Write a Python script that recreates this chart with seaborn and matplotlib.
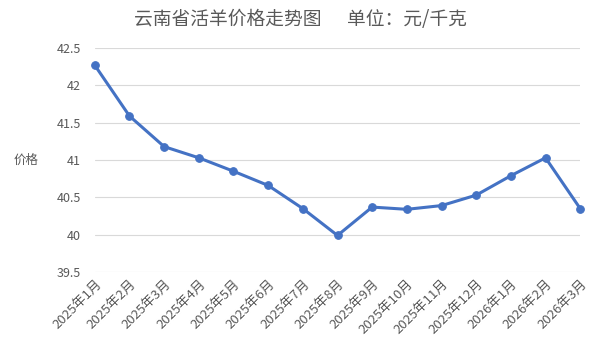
"""云南省活羊价格走势图 line chart."""

import matplotlib

matplotlib.use("Agg")
import matplotlib.pyplot as plt
import pandas as pd
import seaborn as sns

# Data
months = [
    "2025年1月", "2025年2月", "2025年3月", "2025年4月", "2025年5月",
    "2025年6月", "2025年7月", "2025年8月", "2025年9月", "2025年10月",
    "2025年11月", "2025年12月", "2026年1月", "2026年2月", "2026年3月",
]
prices = [
    42.27, 41.59, 41.18, 41.03, 40.85, 40.66, 40.35, 39.99,
    40.37, 40.34, 40.39, 40.53, 40.79, 41.03, 40.35,
]
y_ticks = [39.5, 40, 40.5, 41, 41.5, 42, 42.5]
y_tick_labels = ["39.5", "40", "40.5", "41", "41.5", "42", "42.5"]

df = pd.DataFrame({"month": months, "price": prices, "pos": range(len(months))})

sns.set_style("white")
plt.rcParams["font.family"] = ["Noto Sans CJK SC", "DejaVu Sans"]

fig = plt.figure(figsize=(6, 3.51), dpi=100)
ax = fig.add_axes([0.158, 0.225, 0.809, 0.638])

sns.lineplot(
    data=df, x="pos", y="price", ax=ax,
    color="#4472C4", linewidth=2.2, marker="o", markersize=5.5,
    markeredgecolor="#4472C4", clip_on=False,
)

ax.set_xlim(0, len(months) - 1)
ax.set_ylim(39.5, 42.5)
ax.set_yticks(y_ticks)
ax.set_yticklabels(y_tick_labels)
ax.set_xticks(range(len(months)))
ax.set_xticklabels(months, rotation=45, ha="right", rotation_mode="anchor")
ax.yaxis.grid(True, color="#D9D9D9", linewidth=0.8)
ax.set_axisbelow(True)
for s in ax.spines.values():
    s.set_visible(False)
ax.tick_params(axis="y", length=0, labelsize=9, colors="#595959", pad=10)
ax.tick_params(axis="x", length=0, labelsize=9.5, colors="#595959", pad=4)
ax.set_xlabel("")
ax.set_ylabel("价格", rotation=0, fontsize=9, color="#595959", labelpad=22, va="center")

fig.text(0.5, 0.945, "云南省活羊价格走势图      单位：元/千克", ha="center", va="center",
         fontsize=13.5, color="#595959")

fig.savefig("out.png", dpi=100)
plt.close()
